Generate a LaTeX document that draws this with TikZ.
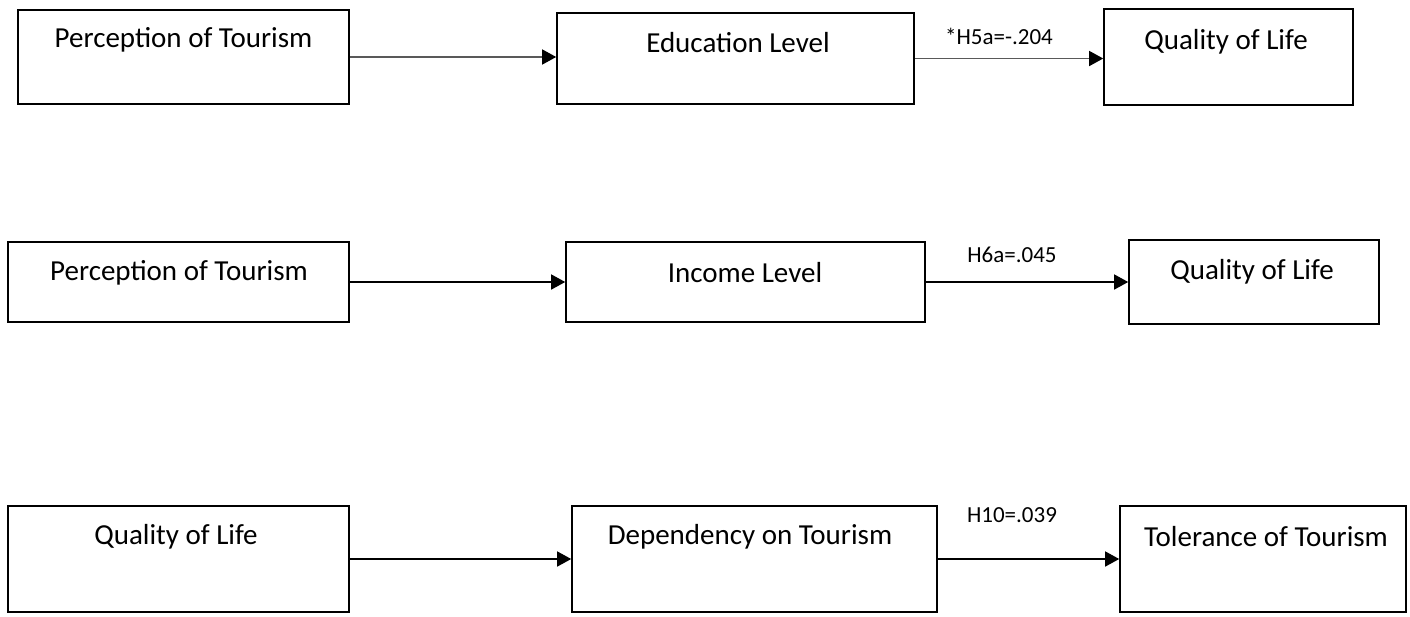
\documentclass[tikz,border=0pt]{standalone}
\usepackage{fontspec}
\setmainfont{Carlito}
\usetikzlibrary{arrows.meta}
\begin{document}
\begin{tikzpicture}[x=1pt,y=-1pt,
  box/.style={draw=black,line width=1.6pt,inner sep=0pt},
  boxtext/.style={font=\fontsize{29}{34}\selectfont,inner sep=0pt,anchor=center},
  coef/.style={font=\fontsize{23}{27}\selectfont,inner sep=0pt,anchor=center},
  link/.style={line width=1.4pt,-{Triangle[length=14pt,width=15pt,fill=black,color=black]}},
  greylink/.style={link,draw=black!65},
]
\useasboundingbox (0,0) rectangle (1410,616);

% --- model 1: education level ---
\node[box,minimum width=331pt,minimum height=94pt] (pa) at (183.5,57) {};
\node[box,minimum width=357pt,minimum height=91pt] (ed) at (735.5,58.5) {};
\node[box,minimum width=249pt,minimum height=96pt] (qa) at (1228.5,57) {};
\node[boxtext] (pat) at (183.5,40) {Perception of Tourism};
\node[boxtext] (edt) at (738,43) {Education Level};
\node[boxtext] (qat) at (1226,42) {Quality of Life};
\draw[greylink] (pa.east) -- (pa.east -| ed.west);
\draw[greylink] (ed.east) -- (ed.east -| qa.west);
\node[coef] (h5a) at (999,36) {*H5a=-.204};

% --- model 2: income level ---
\node[box,minimum width=341pt,minimum height=80pt] (pb) at (178.5,282) {};
\node[box,minimum width=359pt,minimum height=80pt] (inc) at (745.5,282) {};
\node[box,minimum width=250pt,minimum height=84pt] (qb) at (1254,282) {};
\node[boxtext] (pbt) at (179,273) {Perception of Tourism};
\node[boxtext] (inct) at (745,273) {Income Level};
\node[boxtext] (qbt) at (1252,272) {Quality of Life};
\draw[link] (pb.east) -- (pb.east -| inc.west);
\draw[link] (inc.east) -- (inc.east -| qb.west);
\node[coef] (h6a) at (1012,255) {H6a=.045};

% --- model 3: dependency on tourism ---
\node[box,minimum width=341pt,minimum height=106pt] (qc) at (178.5,559) {};
\node[box,minimum width=365pt,minimum height=106pt] (dep) at (754.5,559) {};
\node[box,minimum width=286pt,minimum height=106pt] (tol) at (1263,559) {};
\node[boxtext] (qct) at (176,537) {Quality of Life};
\node[boxtext] (dept) at (750,537) {Dependency on Tourism};
\node[boxtext] (tolt) at (1266,537) {Tolerance of Tourism};
\draw[link] (qc.east) -- (qc.east -| dep.west);
\draw[link] (dep.east) -- (dep.east -| tol.west);
\node[coef] (h10) at (1012,515) {H10=.039};
\end{tikzpicture}
\end{document}
